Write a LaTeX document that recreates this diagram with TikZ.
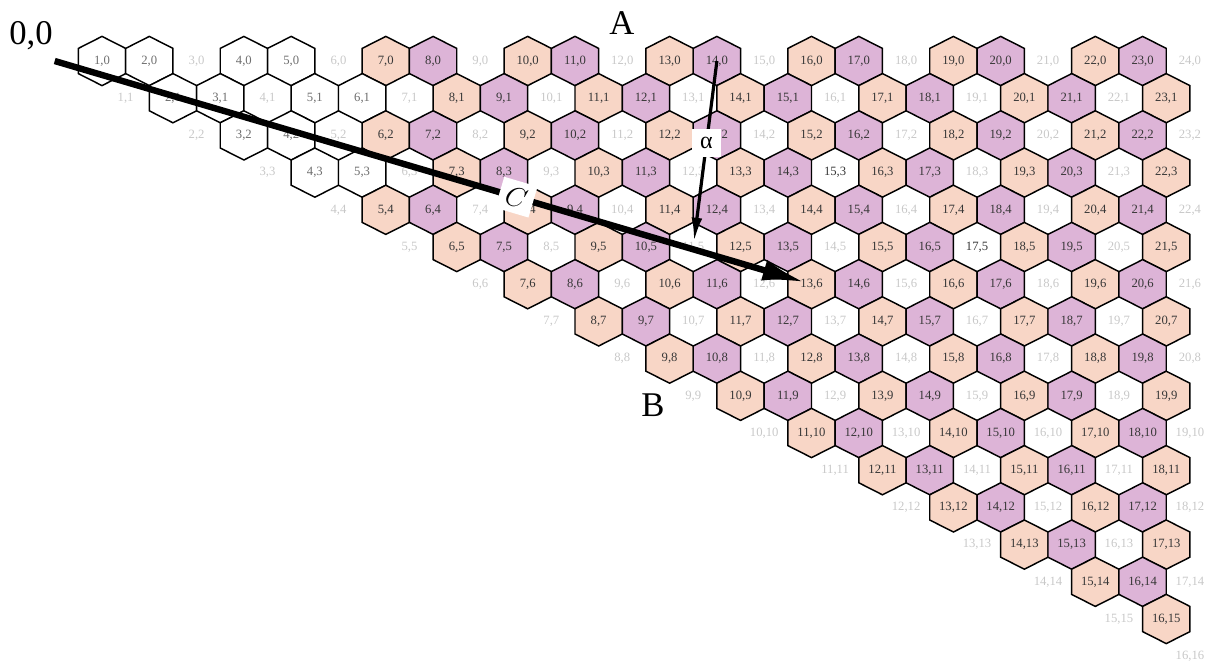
\documentclass[tikz,border=0pt]{standalone}
\usepackage{fontspec}
\setmainfont{Liberation Serif}
\usetikzlibrary{arrows.meta}

\definecolor{peach}{RGB}{248,214,198}
\definecolor{mauve}{RGB}{221,180,215}
\definecolor{metalgray}{RGB}{200,200,200}
\definecolor{numdark}{RGB}{55,55,55}
\definecolor{nummid}{RGB}{110,110,110}

\begin{document}
\begin{tikzpicture}[x=0.75pt, y=-0.75pt,
  hexcell/.style={draw=black, line width=1.1pt, line join=miter},
  cellnum/.style={font=\fontsize{9.5}{10}\selectfont, inner sep=0pt},
  corner/.style={font=\fontsize{26}{28}\selectfont, inner sep=0pt},
  tag/.style={fill=white, inner sep=5pt},
  chiral/.style={line width=4.8pt, -{Latex[length=32pt,width=16pt]}, shorten >=5pt},
  tilt/.style={line width=2.4pt, -{Latex[length=18pt,width=8pt]}, shorten >=4pt}]

  \useasboundingbox (0,0) rectangle (1213,661);

  % ====== lattice origin ======
  \coordinate (h-0-0) at (54.7,61);

  % ====== hexagon cells (i,j) ======
  \foreach \j in {0,...,16} {
    \pgfmathtruncatemacro{\ilo}{max(\j,1)}
    \pgfmathtruncatemacro{\ihi}{24-\j/2}
    \foreach \i in {\ilo,...,\ihi} {
      \pgfmathsetmacro{\x}{54.7+(\i+\j/2)*47.3}
      \pgfmathsetmacro{\y}{61+37.2*\j}
      \pgfmathtruncatemacro{\r}{mod(\i-\j,3)}
      \pgfmathtruncatemacro{\wt}{and(\i+\j/2<7,\j<4)}
      \pgfmathtruncatemacro{\dk}{or(and(\i==15,\j==3),and(\i==17,\j==5))}
      \coordinate (h-\i-\j) at (\x,\y);
      \ifnum\r=0
        % metallic cell: no outline of its own
        \ifnum\dk=1
          \node[cellnum, text=numdark] (l-\i-\j) at (h-\i-\j) {\i,\j};
        \else
          \node[cellnum, text=metalgray] (l-\i-\j) at (h-\i-\j) {\i,\j};
        \fi
      \else
        \ifnum\wt=1
          \def\fc{white}\def\tc{nummid}
        \else
          \ifnum\r=1 \def\fc{peach}\else\def\fc{mauve}\fi
          \def\tc{numdark}
        \fi
        \draw[hexcell, fill=\fc] (h-\i-\j) +(0,-24.6) -- +(23.65,-12.6)
          -- +(23.65,12.6) -- +(0,24.6) -- +(-23.65,12.6) -- +(-23.65,-12.6) -- cycle;
        \node[cellnum, text=\tc] (l-\i-\j) at (h-\i-\j) {\i,\j};
      \fi
    }
  }

  % ====== corner labels ======
  \node[corner] (origin) at (31,36) {0,0};
  \node[corner] (armA) at (622,23) {A};
  \node[corner] (armB) at (653,405) {B};

  % ====== chiral vector and angle ======
  \draw[chiral] (h-0-0) -- (h-13-6)
    node[tag, pos=0.61, sloped, font=\fontsize{20}{22}\selectfont] (vecC) {$C$};
  \draw[tilt] (h-14-0) -- (h-11-5)
    node[tag, pos=0.44, inner sep=6pt, font=\fontsize{18}{20}\selectfont] (angA) {α};

\end{tikzpicture}
\end{document}
